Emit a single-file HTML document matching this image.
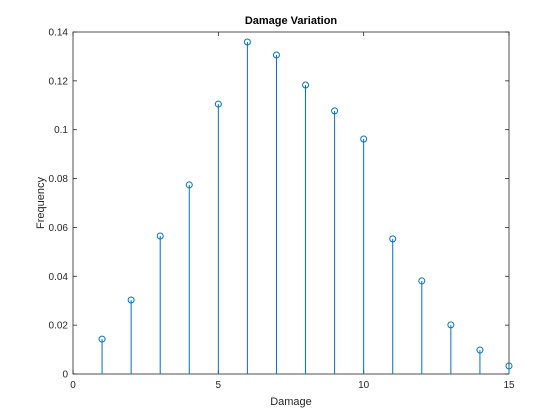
<!DOCTYPE html>
<html><head><meta charset="utf-8"><style>
body{margin:0;background:#fff;}
svg{display:block;font-family:"Liberation Sans",sans-serif;}
</style></head><body>
<svg id="chart" width="560" height="420">
<rect x="0" y="0" width="560" height="420" fill="#fff"/>
<rect x="73" y="32" width="436" height="342" fill="#fff" stroke="#262626" stroke-width="0.8"/>
<g id="ticks"></g>
<g id="marks"></g>
<text x="291" y="24" text-anchor="middle" font-size="11" font-weight="bold" fill="#000">Damage Variation</text>
<text x="291" y="405" text-anchor="middle" font-size="11" fill="#262626">Damage</text>
<text x="44" y="203" text-anchor="middle" font-size="11" fill="#262626" transform="rotate(-90 44 203)">Frequency</text>
</svg>
<script>
const damage=[1,2,3,4,5,6,7,8,9,10,11,12,13,14,15];
const frequency=[0.0143,0.0303,0.0565,0.0774,0.1105,0.1359,0.1306,0.1183,0.1077,0.0962,0.0553,0.0381,0.0201,0.0098,0.0033];
const xTicks=[0,5,10,15];
const yTicks=[0,0.02,0.04,0.06,0.08,0.1,0.12,0.14];
const yTickLabels=["0","0.02","0.04","0.06","0.08","0.1","0.12","0.14"];
const L=73,R=509,T=32,B=374,xMax=15,yMax=0.14;
const xs=v=>L+(v/xMax)*(R-L);
const ys=v=>B-(v/yMax)*(B-T);
const NS="http://www.w3.org/2000/svg";
const tg=document.getElementById('ticks'),mg=document.getElementById('marks');
function mk(tag,attrs,parent){const e=document.createElementNS(NS,tag);for(const k in attrs)e.setAttribute(k,attrs[k]);parent.appendChild(e);return e;}
xTicks.forEach(v=>{
 const x=xs(v);
 const t1=mk('line',{x1:x,x2:x,y1:B,y2:B-4,stroke:'#262626','stroke-width':0.8},tg);
 
 
 const t2=mk('line',{x1:x,x2:x,y1:T,y2:T+4,stroke:'#262626','stroke-width':0.8},tg);
 
 
 const l=mk('text',{x:x,y:B+14,'text-anchor':'middle','font-size':10,fill:'#262626'},tg);
 l.textContent=String(v);
 
 
});
yTicks.forEach((v,i)=>{
 const y=ys(v);
 const t1=mk('line',{x1:L,x2:L+4,y1:y,y2:y,stroke:'#262626','stroke-width':0.8},tg);
 
 
 const t2=mk('line',{x1:R,x2:R-4,y1:y,y2:y,stroke:'#262626','stroke-width':0.8},tg);
 
 
 const l=mk('text',{x:L-5,y:y+3.5,'text-anchor':'end','font-size':10,fill:'#262626'},tg);
 l.textContent=yTickLabels[i];
 
 
});
damage.forEach((d,i)=>{
 const x=xs(d),y=ys(frequency[i]);
 const s=mk('line',{x1:x,x2:x,y1:B,y2:y,stroke:'#0072BD','stroke-width':1},mg);
 
 
 const c=mk('circle',{cx:x,cy:y,r:3,fill:'none',stroke:'#0072BD','stroke-width':1},mg);
 
 
});
</script>
</body></html>
